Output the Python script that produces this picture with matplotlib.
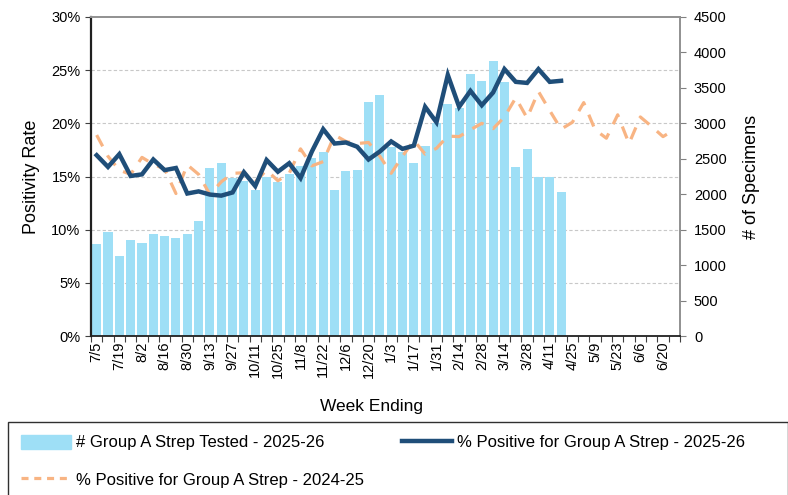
import matplotlib
matplotlib.use("Agg")
import matplotlib.pyplot as plt
from matplotlib.patches import Rectangle, Patch
from matplotlib.lines import Line2D

plt.rcParams["font.family"] = ["Liberation Sans", "DejaVu Sans"]

# one tick label every second week (52 weeks total)
tick_labels = ["7/5", "7/19", "8/2", "8/16", "8/30", "9/13", "9/27", "10/11",
               "10/25", "11/8", "11/22", "12/6", "12/20", "1/3", "1/17", "1/31",
               "2/14", "2/28", "3/14", "3/28", "4/11", "4/25", "5/9", "5/23",
               "6/6", "6/20"]

tested_2526 = [1300, 1467, 1128, 1354, 1312, 1439, 1411, 1387, 1439, 1618,
               2372, 2443, 2222, 2190, 2060, 2250, 2177, 2280, 2398, 2507,
               2595, 2060, 2330, 2346, 3305, 3405, 2670, 2591, 2436, 2685,
               3000, 3272, 3212, 3696, 3597, 3884, 3587, 2388, 2638, 2238,
               2238, 2036]

pos_2526 = [17.0, 15.9, 17.1, 15.05, 15.2, 16.6, 15.6, 15.8, 13.4, 13.6,
            13.3, 13.2, 13.5, 15.4, 14.1, 16.55, 15.45, 16.25, 14.85, 17.35,
            19.45, 18.1, 18.2, 17.8, 16.6, 17.35, 18.3, 17.6, 17.9, 21.55,
            20.1, 24.55, 21.55, 23.05, 21.7, 22.9, 25.1, 23.9, 23.8, 25.1,
            23.9, 24.0]

pos_2425 = [18.9, 16.9, 15.6, 15.2, 16.8, 16.15, 15.7, 13.4, 16.1, 15.2,
            13.3, 14.5, 15.3, 15.35, 14.5, 15.6, 14.6, 15.3, 17.6, 16.0,
            16.4, 18.9, 18.3, 18.1, 18.2, 16.9, 15.3, 16.9, 18.4, 17.1,
            17.65, 18.8, 18.75, 19.4, 20.0, 19.5, 20.6, 22.4, 20.5, 23.0,
            21.2, 19.45, 20.1, 21.95, 19.4, 18.6, 20.8, 18.1, 20.6, 19.7,
            18.75, 19.4]

bar_color = "#9edff6"
dark_blue = "#1f4e79"
peach = "#f8b483"

n_weeks = 52

fig = plt.figure(figsize=(7.88, 4.95), dpi=100)
ax = fig.add_axes([91 / 788, 1 - 336 / 495, 589 / 788, 319 / 495])
ax2 = ax.twinx()

# bars on the right (specimen) axis, drawn underneath the lines
for p in [5, 10, 15, 20, 25]:
    ax2.axhline(p * 4500 / 30, color="#c8c8c8", lw=0.8, ls=(0, (3, 2)), zorder=0)
ax2.bar(range(len(tested_2526)), tested_2526, width=0.8, color=bar_color, zorder=2)
ax2.set_ylim(0, 4500)
ax2.set_yticks(range(0, 4501, 500))

ax.set_zorder(ax2.get_zorder() + 1)
ax.patch.set_visible(False)
ax.plot(range(len(pos_2425)), pos_2425, color=peach, lw=2.3,
        dashes=(4, 3.2), zorder=3)
ax.plot(range(len(pos_2526)), pos_2526, color=dark_blue, lw=3.2,
        solid_joinstyle="miter", zorder=4)
ax.set_ylim(0, 30)
ax.set_yticks(range(0, 31, 5))
ax.set_yticklabels([f"{v}%" for v in range(0, 31, 5)])
ax.set_xlim(-0.5, n_weeks - 0.5)

# tick marks between weeks, labels under every second week
ax.set_xticks([i - 0.5 for i in range(n_weeks + 1)])
ax.set_xticklabels([])
ax.set_xticks(range(0, n_weeks, 2), minor=True)
ax.set_xticklabels(tick_labels, minor=True, rotation=90, fontsize=10.5)
ax.tick_params(axis="x", which="major", length=4, color="#404040")
ax.tick_params(axis="x", which="minor", length=0, pad=4)
ax2.tick_params(axis="x", which="both", length=0)

ax.tick_params(axis="y", labelsize=10.5, length=4, color="#404040")
ax2.tick_params(axis="y", labelsize=10.5, length=4, color="#808080", pad=6)

ax.spines["left"].set_color("#202020")
ax.spines["left"].set_linewidth(1.6)
ax.spines["bottom"].set_color("#202020")
ax.spines["bottom"].set_linewidth(1.3)
for s in ["top", "right"]:
    ax.spines[s].set_color("#909090")
    ax.spines[s].set_linewidth(1.4)
for s in ax2.spines.values():
    s.set_visible(False)

ax.set_ylabel("Positivity Rate", fontsize=13, labelpad=8)
ax2.set_ylabel("# of Specimens", fontsize=13, labelpad=12)

fig.text(372 / 788, 1 - 406 / 495, "Week Ending", ha="center", va="center",
         fontsize=12.5)

# legend with a box running off the bottom/right edges
fig.add_artist(Rectangle((8 / 788, -0.05), 0.99, 0.05 + (495 - 422) / 495,
                         transform=fig.transFigure, fill=False,
                         edgecolor="#303030", lw=1.0))
handles = [Patch(color=bar_color),
           Line2D([], [], color=peach, lw=2.3, dashes=(2.2, 1.8)),
           Line2D([], [], color=dark_blue, lw=3.2)]
labels = ["# Group A Strep Tested - 2025-26",
          "% Positive for Group A Strep - 2024-25",
          "% Positive for Group A Strep - 2025-26"]
fig.legend(handles, labels, ncol=2, loc="upper left",
           bbox_to_anchor=(14 / 788, 1 - 428 / 495), frameon=False,
           fontsize=12, handlelength=3.0, handleheight=0.9,
           handletextpad=0.3, columnspacing=2.3, labelspacing=1.3,
           borderaxespad=0)

fig.savefig("out.png", dpi=100)
